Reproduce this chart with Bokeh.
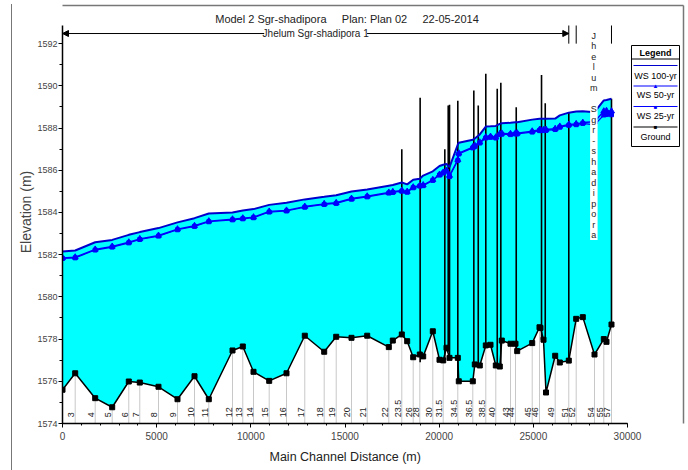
import numpy as np
from bokeh.plotting import figure
from bokeh.models import Range1d, Label, Arrow, NormalHead, FixedTicker, Title, InlineStyleSheet
from bokeh.embed import file_html
from bokeh.resources import INLINE
from bokeh.core.properties import value

# ---------------- data ----------------
stations = [0, 674, 1736, 2639, 3520, 4104, 5097, 6106, 7009, 7768, 9027, 9573, 10142, 10975,
            11894, 12865, 13895, 14533, 15345, 16179, 17326, 17538, 18016, 18302, 18621, 18972,
            19152, 19662, 20018, 20214, 20389, 20549, 20990, 21042, 21786, 21892, 22157, 22476,
            22726, 23007, 23219, 23325, 23787, 24053, 24143, 24940, 25327, 25380, 25540, 25673,
            26161, 26405, 26883, 27276, 27626, 28248, 28742, 28885, 29150]
ground = [1575.60, 1576.38, 1575.20, 1574.77, 1575.99, 1575.94, 1575.74, 1575.15, 1576.24, 1575.15,
          1577.46, 1577.65, 1576.45, 1576.02, 1576.38, 1578.16, 1577.40, 1578.11, 1578.06, 1578.16,
          1577.62, 1577.93, 1578.22, 1577.90, 1577.14, 1577.27, 1577.18, 1578.37, 1577.02, 1576.99,
          1577.59, 1577.11, 1577.11, 1576.00, 1576.00, 1576.80, 1576.75, 1577.70, 1577.73, 1576.75,
          1576.70, 1577.93, 1577.78, 1577.78, 1577.43, 1577.81, 1578.56, 1578.53, 1577.97, 1575.47,
          1577.21, 1576.89, 1576.98, 1578.96, 1579.04, 1577.27, 1578.00, 1577.87, 1578.69]
ws100 = [1582.15, 1582.20, 1582.59, 1582.70, 1582.94, 1583.07, 1583.26, 1583.53, 1583.73, 1583.95,
         1584.00, 1584.09, 1584.16, 1584.36, 1584.46, 1584.62, 1584.74, 1584.82, 1584.99, 1585.09,
         1585.27, 1585.30, 1585.42, 1585.33, 1585.55, 1585.60, 1585.75, 1585.95, 1586.20, 1586.26,
         1586.30, 1586.15, 1587.22, 1587.30, 1587.45, 1587.50, 1587.70, 1588.07, 1588.08, 1588.10,
         1588.20, 1588.23, 1588.25, 1588.28, 1588.28, 1588.40, 1588.44, 1588.44, 1588.44, 1588.44,
         1588.45, 1588.60, 1588.73, 1588.78, 1588.80, 1588.75, 1589.31, 1589.33, 1589.39]
ws50 = [1581.85, 1581.88, 1582.25, 1582.39, 1582.59, 1582.75, 1582.91, 1583.21, 1583.37, 1583.59,
        1583.68, 1583.73, 1583.78, 1584.05, 1584.10, 1584.28, 1584.41, 1584.46, 1584.66, 1584.77,
        1584.95, 1584.98, 1585.04, 1584.99, 1585.20, 1585.28, 1585.30, 1585.55, 1585.80, 1585.90,
        1585.99, 1585.75, 1586.50, 1586.81, 1587.10, 1587.17, 1587.33, 1587.57, 1587.60, 1587.57,
        1587.73, 1587.75, 1587.73, 1587.76, 1587.76, 1587.85, 1587.92, 1587.92, 1587.92, 1587.93,
        1587.97, 1588.08, 1588.17, 1588.20, 1588.26, 1588.30, 1588.80, 1588.82, 1588.80]
ws25 = [1581.82, 1581.85, 1582.22, 1582.36, 1582.56, 1582.72, 1582.88, 1583.18, 1583.34, 1583.56,
        1583.65, 1583.70, 1583.75, 1584.02, 1584.07, 1584.25, 1584.38, 1584.43, 1584.63, 1584.74,
        1584.92, 1584.95, 1585.01, 1584.96, 1585.17, 1585.25, 1585.27, 1585.52, 1585.77, 1585.87,
        1585.96, 1585.70, 1586.46, 1586.77, 1587.06, 1587.13, 1587.29, 1587.53, 1587.56, 1587.53,
        1587.69, 1587.71, 1587.69, 1587.72, 1587.72, 1587.81, 1587.88, 1587.88, 1587.88, 1587.89,
        1587.93, 1588.04, 1588.13, 1588.16, 1588.22, 1588.15, 1588.62, 1588.64, 1588.63]

sec_labels = ["3", "4", "5", "6", "7", "8", "9", "10", "11", "12", "13", "14", "15", "16", "17",
              "18", "19", "20", "21", "22", "23.5", "26", "28", "30", "31.5", "34.5", "36.5",
              "38.5", "40", "43", "44", "45", "46", "49", "51", "52", "54", "55", "57"]
sec_stations = [674, 1736, 2639, 3520, 4104, 5097, 6106, 7009, 7768, 9027, 9573, 10142, 10975,
                11894, 12865, 13895, 14533, 15345, 16179, 17326, 18016, 18621, 18972, 19662,
                20214, 20990, 21786, 22476, 23007, 23787, 24053, 24940, 25327, 26161, 26883,
                27276, 28248, 28742, 29150]

struct_stations = [18016, 18990, 20300, 20480, 20550, 20990, 21840, 22075, 22476, 23083, 23274,
                   24092, 25435, 25632, 26883, 29150]
struct_tops = [1587.00, 1589.44, 1587.00, 1589.07, 1589.10, 1589.30, 1589.78, 1589.07, 1590.57,
               1589.86, 1590.15, 1588.99, 1590.52, 1589.18, 1588.73, 1589.39]
struct_bottoms = [1578.22, 1576.90, 1577.00, 1577.40, 1577.11, 1576.00, 1576.80, 1576.75, 1577.70,
                  1576.75, 1576.70, 1577.45, 1577.97, 1577.97, 1576.98, 1578.69]

reach_names = ["Jhelum Sgr-shadipora 1", "Jhelum Sgr-shadipora"]
reach_marks = [26883, 27276, 29150]
x_ticks = [0, 5000, 10000, 15000, 20000, 25000, 30000]
y_ticks = [1574, 1576, 1578, 1580, 1582, 1584, 1586, 1588, 1590, 1592]
series_names = ["WS 100-yr", "WS 50-yr", "WS 25-yr", "Ground"]
x_title = "Main Channel Distance (m)"
y_title = "Elevation (m)"

TITLE = "Model 2 Sgr-shadipora\u00a0\u00a0\u00a0\u00a0\u00a0Plan: Plan 02\u00a0\u00a0\u00a0\u00a0\u00a022-05-2014"

# ---------------- style / layout ----------------
W, H = 688, 470
FL, FB = 62, 423            # frame left / frame bottom in canvas pixels
NARROW = "'Liberation Sans Narrow', 'Arial Narrow', 'Liberation Sans', sans-serif"
SANS = "'Liberation Sans', Arial, sans-serif"
CYAN = "#00FFFF"
BLUE_DARK = "#0000CD"
BLUE = "#0000FF"

X_AX = (0, 30000)
Y_AX = (1574, 1592.86)
px_per_x = 565 / (X_AX[1] - X_AX[0])
px_per_y = 398 / (Y_AX[1] - Y_AX[0])
x_end = X_AX[0] + (W - FL) / px_per_x
y_end = Y_AX[0] + FB / px_per_y

border_css = InlineStyleSheet(css="""
:host { position: relative; }
:host::after {
  content: ""; position: absolute; left: 11px; top: 4px; bottom: 0px; width: 0px;
  border-left: 1.5px solid #777777; pointer-events: none; z-index: 10;
}
""")

p = figure(width=W, height=H, output_backend="svg", toolbar_location=None,
           x_range=Range1d(X_AX[0], x_end), y_range=Range1d(Y_AX[0], y_end),
           min_border_left=FL, min_border_right=0, min_border_top=0,
           min_border_bottom=H - FB, stylesheets=[border_css])
p.outline_line_color = None
p.grid.visible = False
p.background_fill_color = "white"
p.border_fill_color = "white"


def sx(px):
    return px - FL


def sy(py):
    return FB - py


# title (inside the frame area, which spans the full top of the canvas)
p.add_layout(Label(x=sx(346.5), y=sy(18), x_units="screen", y_units="screen", text=TITLE,
                   text_align="center", text_baseline="middle", text_font=SANS,
                   text_font_size="11px", text_color="#222222"))

# axes
xa = p.xaxis[0]
xa.bounds = X_AX
xa.ticker = FixedTicker(ticks=x_ticks, minor_ticks=list(range(0, 30001, 1000)))
xa.major_label_text_font = NARROW
xa.major_label_text_font_size = "10px"
xa.major_label_standoff = 4
xa.major_tick_out = 4
xa.major_tick_in = 0
xa.minor_tick_out = 2
xa.minor_tick_in = 0
xa.axis_line_width = 1.5
p.add_layout(Title(text=x_title, align="left", offset=207, text_font=SANS,
                   text_font_size="12.5px", text_font_style="normal", text_color="#222222",
                   standoff=10), "below")

ya = p.yaxis[0]
ya.bounds = Y_AX
ya.ticker = FixedTicker(ticks=y_ticks, minor_ticks=list(range(1574, 1593, 1)))
ya.axis_label = y_title
ya.axis_label_text_font = SANS
ya.axis_label_text_font_size = "14px"
ya.axis_label_text_font_style = "normal"
ya.axis_label_standoff = 0
ya.major_label_text_font = NARROW
ya.major_label_text_font_size = "9px"
ya.major_label_standoff = 1
ya.major_tick_out = 4
ya.major_tick_in = 0
ya.minor_tick_out = 3
ya.minor_tick_in = 0
ya.axis_line_width = 1.5

# water fill
p.varea(x=stations, y1=ground, y2=ws100, fill_color=CYAN)

# section lines and labels
sec_ground = np.interp(sec_stations, stations, ground)
p.segment(x0=sec_stations, y0=[Y_AX[0]] * len(sec_stations), x1=sec_stations, y1=sec_ground,
          line_color="#C8C8C8", line_width=1)
p.text(x=sec_stations, y=[1574.3] * len(sec_stations), text=sec_labels, angle=np.pi / 2,
       text_align="left", text_baseline="middle", x_offset=-4,
       text_font=value(SANS), text_font_size="9px", text_color="#222222")

# structures
p.segment(x0=struct_stations, y0=struct_bottoms, x1=struct_stations, y1=struct_tops,
          line_color="black", line_width=1.6)

# water surfaces
p.line(stations, ws25, line_color=BLUE, line_width=1.2)
p.scatter(stations, ws25, marker="square", size=4, fill_color=BLUE, line_color=BLUE)
p.line(stations, ws50, line_color=BLUE, line_width=1.4)
p.scatter(stations, ws50, marker="triangle", size=6, fill_color=BLUE, line_color=BLUE)
p.line(stations, ws100, line_color=BLUE_DARK, line_width=2)

# ground
p.line(stations, ground, line_color="black", line_width=1.5)
p.scatter(stations, ground, marker="square", size=5, fill_color="black", line_color="black")

# reach annotation at top
y_reach = 1592.48
mid = reach_marks[0] / 2
gap = 2730
p.add_layout(Arrow(end=NormalHead(size=6, fill_color="black", line_color="black"),
                   x_start=mid - gap, y_start=y_reach, x_end=0, y_end=y_reach,
                   line_color="black", line_width=1))
p.add_layout(Arrow(end=NormalHead(size=6, fill_color="black", line_color="black"),
                   x_start=mid + gap, y_start=y_reach, x_end=reach_marks[0], y_end=y_reach,
                   line_color="black", line_width=1))
p.add_layout(Label(x=mid, y=y_reach, text=reach_names[0], text_align="center",
                   text_baseline="middle", text_font=NARROW, text_font_size="10px",
                   text_color="#222222"))
p.segment(x0=reach_marks, y0=[1592.0] * 3, x1=reach_marks, y1=[Y_AX[1]] * 3,
          line_color="black", line_width=1)
vlab = Label(x=28213, y=1592.62, text="\n".join(list(reach_names[1])),
             text_align="center", text_baseline="top", text_font=SANS,
             text_font_size="9px", text_line_height=1.05, text_color="#222222",
             background_fill_color="white")
try:
    vlab.padding = 0
except Exception:
    pass
p.add_layout(vlab)


# ---------------- legend + frame lines (screen units) ----------------
def hline(x0, x1, py, color, width=1.2):
    p.add_layout(Arrow(end=None, start=None, x_start=sx(x0), y_start=sy(py), x_end=sx(x1),
                       y_end=sy(py), start_units="screen", end_units="screen",
                       line_color=color, line_width=width))


def vline(px, py0, py1, color, width=1.2):
    p.add_layout(Arrow(end=None, start=None, x_start=sx(px), y_start=sy(py0), x_end=sx(px),
                       y_end=sy(py1), start_units="screen", end_units="screen",
                       line_color=color, line_width=width))


# outer border (top and right inside the frame; left via the stylesheet)
hline(12, 683, 5, "#777777", 1.5)
vline(683, 5, H, "#777777", 1.5)

LX0, LX1, LY0, LY1 = 631, 679, 45, 146
hline(LX0, LX1, LY0, "black", 1)
hline(LX0, LX1, LY1, "black", 1)
vline(LX0, LY0, LY1, "black", 1)
vline(LX1, LY0, LY1, "black", 1)
hline(LX0, LX1, 58.5, "black", 1)
cx = (LX0 + LX1) / 2
p.add_layout(Label(x=sx(cx), y=sy(52.5), x_units="screen", y_units="screen", text="Legend",
                   text_align="center", text_baseline="middle", text_font=NARROW,
                   text_font_size="9px", text_font_style="bold", text_color="black"))
item_line_y = [65, 85.5, 106, 126.5]
item_text_y = [75, 94.5, 115, 136.5]
item_colors = [BLUE_DARK, BLUE, BLUE, "black"]
item_marks = [None, "\u25B2", "\u25A0", "\u25A0"]
for name, ly, ty, col, mk in zip(series_names, item_line_y, item_text_y, item_colors, item_marks):
    hline(LX0 + 2, LX1 - 2, ly, col, 1.2)
    if mk is not None:
        p.add_layout(Label(x=sx(cx), y=sy(ly), x_units="screen", y_units="screen", text=mk,
                           text_align="center", text_baseline="middle", text_font=SANS,
                           text_font_size="6px", text_color=col))
    p.add_layout(Label(x=sx(cx), y=sy(ty), x_units="screen", y_units="screen", text=name,
                       text_align="center", text_baseline="middle", text_font=NARROW,
                       text_font_size="9px", text_color="black"))

open("out.html", "w").write(file_html(p, INLINE))
